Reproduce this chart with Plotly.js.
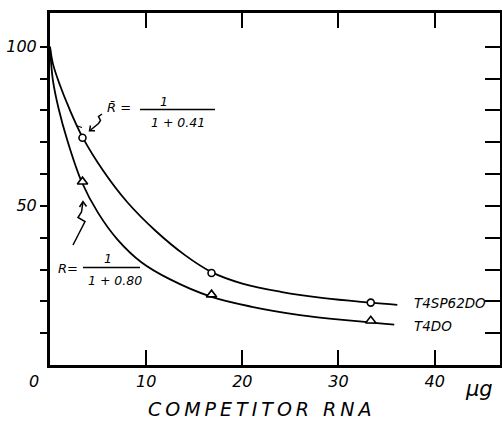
<!DOCTYPE html>
<html>
<head>
<meta charset="utf-8">
<script src="https://cdn.plot.ly/plotly-3.0.1.min.js"></script>
<style>
html,body{margin:0;padding:0;background:#fff;}
#chart{width:502px;height:421px;}
</style>
</head>
<body>
<div id="chart"></div>
<script>
// ---- data ----
const curveUpperX = [0, 0.3, 1.0, 2.0, 3.38, 5.5, 8.0, 11.0, 14.0, 16.8, 20.0, 24.0, 28.5, 33.36, 36.12];
const curveUpperY = [100, 94.7, 88.2, 80.6, 71.6, 61.2, 51.3, 42.1, 34.6, 29.2, 25.6, 23.0, 21.0, 19.6, 18.9];
const curveLowerX = [0, 0.3, 0.9, 1.8, 3.3, 5.0, 7.0, 9.5, 12.5, 16.8, 21.0, 26.0, 31.0, 35.8];
const curveLowerY = [100, 89.5, 80.5, 70.6, 57.5, 47.8, 39.5, 32.3, 26.9, 21.4, 18.3, 15.7, 14.0, 12.7];
const pointsX = [3.38, 16.8, 33.36];
const circleY = [71.4, 28.9, 19.6];
const triangleY = [57.6, 22.1, 13.9];
const xTickVals = [10, 20, 30, 40];
const xTickText = ['10', '20', '30', '40'];
const yTickVals = [10, 20, 30, 40, 50, 60, 70, 80, 90, 100];
const yTickText = ['', '', '', '', '50', '', '', '', '', '100'];
const seriesNames = ['T4SP62DO', 'T4DO'];

// ---- helpers (pixel position -> paper fraction for decorations) ----
const L = 50, R = 500, T = 13, B = 365;
function px(x) { return (x - L) / (R - L); }
function py(y) { return (B - y) / (B - T); }
function pathFrom(pts) {
  return pts.map((p, i) => (i === 0 ? 'M' : 'L') + px(p[0]).toFixed(4) + ',' + py(p[1]).toFixed(4)).join(' ');
}
const FONT = 'DejaVu Sans, Liberation Sans, sans-serif';
function ann(text, x, y, size, xanchor) {
  return {text: text, xref: 'paper', yref: 'paper', x: px(x), y: py(y),
          xanchor: xanchor || 'center', yanchor: 'middle', showarrow: false,
          font: {family: FONT, size: size, color: '#000', style: 'italic'}};
}
function lineShape(pts, w) {
  return {type: 'path', xref: 'paper', yref: 'paper', path: pathFrom(pts),
          line: {color: '#000', width: w || 1.5}};
}

const lineStyle = {color: '#000', width: 1.8, shape: 'spline', smoothing: 1};
const traces = [
  {x: curveUpperX, y: curveUpperY, mode: 'lines', line: lineStyle, name: seriesNames[0], hoverinfo: 'skip'},
  {x: curveLowerX, y: curveLowerY, mode: 'lines', line: lineStyle, name: seriesNames[1], hoverinfo: 'skip'},
  {x: pointsX, y: circleY, mode: 'markers', name: seriesNames[0],
   marker: {symbol: 'circle', size: 7, color: '#fff', line: {color: '#000', width: 1.6}}},
  {x: pointsX, y: triangleY, mode: 'markers', name: seriesNames[1],
   marker: {symbol: 'triangle-up', size: 9, color: '#fff', line: {color: '#000', width: 1.6}}},
  {x: [null], y: [null], yaxis: 'y2', mode: 'markers', showlegend: false, hoverinfo: 'skip'}
];

const layout = {
  width: 502, height: 421,
  margin: {l: L, r: 502 - R, t: T, b: 421 - B},
  paper_bgcolor: '#fff', plot_bgcolor: '#fff',
  showlegend: false,
  font: {family: FONT, color: '#000', style: 'italic'},
  xaxis: {range: [0, 46.8], tickvals: xTickVals, ticktext: xTickText,
          ticks: 'inside', ticklen: 15, tickwidth: 2, tickcolor: '#000',
          showline: true, linewidth: 3, linecolor: '#000', mirror: 'ticks',
          showgrid: false, zeroline: false, fixedrange: true,
          tickfont: {family: FONT, size: 16, color: '#000', style: 'italic'}},
  yaxis: {range: [0, 110.6], tickvals: yTickVals, ticktext: yTickText,
          ticks: 'outside', ticklen: 7, tickwidth: 2, tickcolor: '#000',
          showline: true, linewidth: 3, linecolor: '#000',
          showgrid: false, zeroline: false, fixedrange: true,
          tickfont: {family: FONT, size: 16, color: '#000', style: 'italic'}},
  yaxis2: {range: [0, 110.6], overlaying: 'y', side: 'right', tickvals: yTickVals,
           ticks: 'inside', ticklen: 15, tickwidth: 2, tickcolor: '#000',
           showticklabels: false, showline: true, linewidth: 3, linecolor: '#000',
           showgrid: false, zeroline: false, fixedrange: true},
  annotations: [
    ann('0', 34, 381, 16),
    ann('COMPETITOR RNA', 262, 409, 19),
    ann('μg', 479, 389, 21),
    ann(seriesNames[0], 412, 302.5, 13.5, 'left'),
    ann(seriesNames[1], 412, 325.5, 13.5, 'left'),
    ann('R\u0304 =', 119, 107, 13),
    ann('1', 164, 102, 12.5),
    ann('1 + 0.41', 178, 122.5, 12.5),
    ann('R=', 68, 268, 13),
    ann('1', 108, 258.5, 12.5),
    ann('1 + 0.80', 115, 280.5, 12.5)
  ],
  shapes: [
    lineShape([[140, 109.5], [215, 109.5]], 1.4),
    lineShape([[83, 267.5], [140, 267.5]], 1.4),
    // squiggle arrow to upper curve point
    lineShape([[102, 114], [98.5, 116.5], [100.5, 120.5], [98.5, 123.5], [90, 130.5]], 1.5),
    lineShape([[90.5, 125.5], [89.5, 130.8], [95, 130.8]], 1.5),
    lineShape([[76, 125.5], [82, 127.5]], 1.3),
    // squiggle arrow to lower curve point
    lineShape([[83, 202], [81.5, 212], [78, 217.5], [85, 221.5], [82.5, 226.5], [73, 245]], 1.5),
    lineShape([[79.5, 207], [83, 201.5], [86.5, 206.5]], 1.5)
  ]
};

Plotly.newPlot('chart', traces, layout, {staticPlot: true}).then(function () {
  document.querySelectorAll('text.annotation-text').forEach(function (t) {
    if (t.textContent.indexOf('COMPETITOR') >= 0) t.style.letterSpacing = '4px';
  });
});
</script>
</body>
</html>
